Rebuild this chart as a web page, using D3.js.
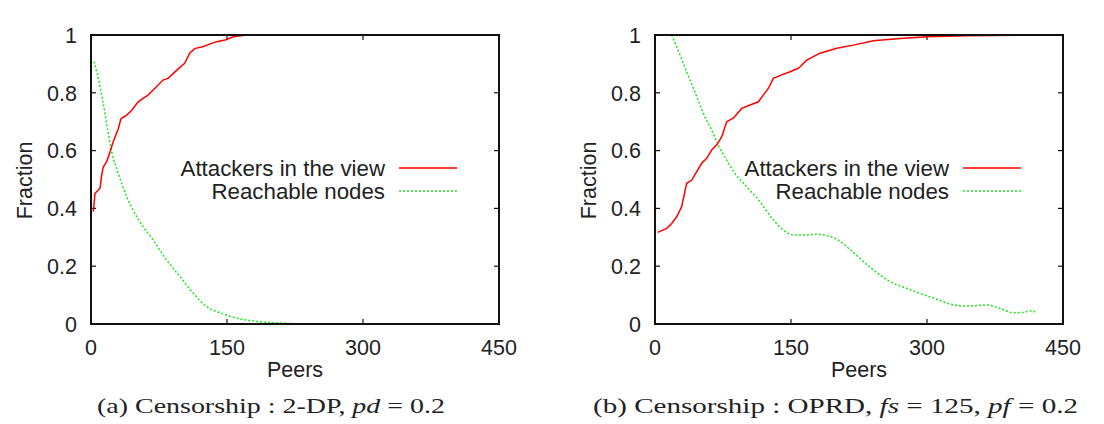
<!DOCTYPE html>
<html>
<head>
<meta charset="utf-8">
<script src="https://cdn.jsdelivr.net/npm/d3@7"></script>
<style>
  body { margin: 0; background: #fff; }
  text.sans { font-family: "Liberation Sans", Arial, sans-serif; font-size: 21.5px; fill: #222; }
  text.leg { font-size: 22.3px; }
  text.cap { font-family: "Liberation Serif", "Times New Roman", serif; font-size: 22px; fill: #222; }
</style>
</head>
<body>
<svg id="fig" width="1104" height="424"></svg>
<script>
const svg = d3.select("#fig");

// values: [peers, fraction]
const attackersA = [
  [2.6,0.389],[4.4,0.452],[7,0.46],[10,0.47],[12,0.52],[13.6,0.544],[17.3,0.562],[21,0.596],
  [25,0.635],[30,0.675],[33,0.71],[39,0.722],[44.5,0.738],[51.8,0.768],[57.3,0.781],[62.9,0.792],
  [70.2,0.815],[79.4,0.844],[84.9,0.85],[95.9,0.882],[103.3,0.902],[108.8,0.937],[114.3,0.953],
  [123.9,0.96],[133,0.971],[138.6,0.977],[147.8,0.983],[157,0.994],[171.7,1.0],[420,1.0]
];
const reachableA = [
  [3.5,0.908],[10,0.821],[15.4,0.729],[18.4,0.671],[22.8,0.596],[30.1,0.521],[39.4,0.44],
  [52.2,0.362],[68.7,0.29],[83.5,0.221],[98.2,0.164],[112.8,0.106],
  [127.6,0.06],[146,0.035],[164.3,0.018],[182.7,0.009],[212,0.003],[250,0.0],[420,0.0]
];
const attackersB = [
  [3,0.317],[12.9,0.331],[18.4,0.348],[23.9,0.371],[29.4,0.406],[33,0.46],[35,0.487],
  [40.5,0.498],[46,0.527],[51.5,0.556],[57,0.573],[62.5,0.602],[68,0.619],[73.6,0.648],
  [79.1,0.70],[86.4,0.712],[95.6,0.746],[104.8,0.758],[114,0.769],[119.4,0.792],[125,0.815],
  [130.5,0.85],[139.7,0.862],[148.9,0.873],[158,0.885],[160,0.89],[167.3,0.913],[182,0.937],
  [200.4,0.954],[218.7,0.965],[240.8,0.98],[270.2,0.988],[299.7,0.994],[343.8,0.997],[420,1.0]
];
const reachableB = [
  [18.4,1.0],[23.9,0.96],[31.2,0.902],[38.6,0.844],[46,0.787],[53.3,0.729],[62.5,0.671],
  [69.8,0.619],[79,0.567],[88.2,0.521],[101,0.475],[115.8,0.423],[130.5,0.36],[141.5,0.325],
  [152.5,0.308],[167.3,0.308],[178.3,0.311],[190,0.305],[197.4,0.298],[215.8,0.256],
  [234.2,0.204],[256.3,0.152],[282,0.118],[307.7,0.089],[329.8,0.066],[344,0.062],
  [366,0.066],[380.5,0.054],[395.2,0.039],[406,0.04],[415.5,0.046],[421,0.037]
];

const xTicks = [0, 150, 300, 450];
const yTicks = [0, 0.2, 0.4, 0.6, 0.8, 1];
const seriesNames = ["Attackers in the view", "Reachable nodes"];
const captions = [
  ["(a) Censorship : 2-DP, ", "pd", " = 0.2"],
  ["(b) Censorship : OPRD, ", "fs", " = 125, ", "pf", " = 0.2"]
];

const panels = [
  { left: 91, att: attackersA, reach: reachableA, cap: captions[0], capX: 97, capW: 348 },
  { left: 655, att: attackersB, reach: reachableB, cap: captions[1], capX: 593, capW: 485 }
];
const plotTop = 35, w = 408, h = 289;

svg.append("rect").attr("width", 1104).attr("height", 424).attr("fill", "#fff");

panels.forEach(p => {
  const g = svg.append("g").attr("transform", `translate(${p.left},${plotTop})`);
  const x = d3.scaleLinear().domain([0, 450]).range([0, w]);
  const y = d3.scaleLinear().domain([0, 1]).range([h, 0]);

  // mirrored inward ticks
  const tick = g.append("g").attr("stroke", "#111").attr("stroke-width", 1.2);
  xTicks.slice(1, -1).forEach(t => {
    tick.append("line").attr("x1", x(t)).attr("x2", x(t)).attr("y1", h).attr("y2", h - 5);
    tick.append("line").attr("x1", x(t)).attr("x2", x(t)).attr("y1", 0).attr("y2", 5);
  });
  yTicks.slice(1, -1).forEach(t => {
    tick.append("line").attr("x1", 0).attr("x2", 5).attr("y1", y(t)).attr("y2", y(t));
    tick.append("line").attr("x1", w).attr("x2", w - 5).attr("y1", y(t)).attr("y2", y(t));
  });

  // tick labels
  g.selectAll(".yl").data(yTicks).join("text").attr("class", "sans")
    .attr("x", -14).attr("y", d => y(d)).attr("dy", "0.36em")
    .attr("text-anchor", "end").text(d => d);
  g.selectAll(".xl").data(xTicks).join("text").attr("class", "sans")
    .attr("x", d => x(d)).attr("y", h + 31).attr("text-anchor", "middle").text(d => d);

  g.append("text").attr("class", "sans").attr("text-anchor", "middle")
    .attr("transform", `translate(${x(225)},${h + 53})`).text("Peers");
  g.append("text").attr("class", "sans").attr("text-anchor", "middle")
    .attr("transform", `translate(-59,${h / 2 + 1}) rotate(-90)`).text("Fraction");

  // curves
  const line = d3.line().x(d => x(d[0])).y(d => y(d[1]));
  g.append("path").datum(p.reach).attr("fill", "none").attr("stroke", "#1ee61e")
    .attr("stroke-width", 1.5).attr("stroke-dasharray", "2,2")
    .attr("d", line.curve(d3.curveMonotoneX));
  g.append("path").datum(p.att).attr("fill", "none").attr("stroke", "#ff0000")
    .attr("stroke-width", 1.5).attr("d", line.curve(d3.curveLinear));

  // frame
  g.append("rect").attr("width", w).attr("height", h).attr("fill", "none")
    .attr("stroke", "#111").attr("stroke-width", 2);

  // legend
  const lg = g.append("g").attr("transform", `translate(${w - 100},133)`);
  seriesNames.forEach((n, i) => {
    lg.append("text").attr("class", "sans leg").attr("x", -14).attr("y", i * 23 + 7.5)
      .attr("text-anchor", "end").text(n);
    lg.append("line").attr("x1", 0).attr("x2", 58).attr("y1", i * 23).attr("y2", i * 23)
      .attr("stroke", i ? "#1ee61e" : "#ff0000").attr("stroke-width", 1.5)
      .attr("stroke-dasharray", i ? "2,2" : null);
  });

  // caption
  const c = svg.append("text").attr("class", "cap").attr("x", p.capX).attr("y", 413)
    .attr("textLength", p.capW).attr("lengthAdjust", "spacingAndGlyphs");
  p.cap.forEach((s, i) => {
    c.append("tspan").attr("font-style", i % 2 ? "italic" : "normal").text(s);
  });
});
</script>
</body>
</html>
